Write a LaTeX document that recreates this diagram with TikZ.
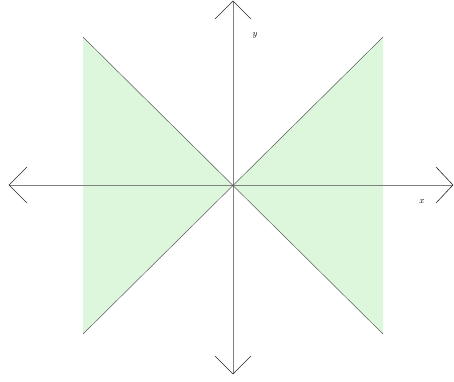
\documentclass[tikz,border=0pt]{standalone}
\definecolor{regiongreen}{RGB}{221,247,221}
\begin{document}
\begin{tikzpicture}[x=1pt,y=-1pt,
  axis/.style={draw=black!50,line width=0.5pt},
  barb/.style={draw=black!85,line width=0.6pt,line cap=round,line join=miter},
  edge/.style={draw=black!65,line width=0.5pt},
  lab/.style={font=\small,inner sep=0pt}]
\useasboundingbox (0,0) rectangle (454,381);
\coordinate (O) at (233,185);
\coordinate (TL) at (83,37);
\coordinate (BL) at (83,334);
\coordinate (TR) at (383,37);
\coordinate (BR) at (383,334);
\fill[fill=regiongreen] (TL) -- (O) -- (BL) -- cycle;
\fill[fill=regiongreen] (TR) -- (O) -- (BR) -- cycle;
\coordinate (XL) at (9,185);
\coordinate (XR) at (453,185);
\coordinate (YT) at (233,1);
\coordinate (YB) at (233,374);
\draw[axis] (XL) -- (XR);
\draw[axis] (YT) -- (YB);
\draw[edge] (TL) -- (BR);
\draw[edge] (BL) -- (TR);
\draw[barb] (215,19) -- (YT) -- (251,19);
\draw[barb] (215,356) -- (YB) -- (251,356);
\draw[barb] (27,167) -- (XL) -- (27,203);
\draw[barb] (436,167) -- (XR) -- (436,203);
\node[lab] (ylab) at (255,35) {$y$};
\node[lab] (xlab) at (422,202) {$x$};
\end{tikzpicture}
\end{document}
